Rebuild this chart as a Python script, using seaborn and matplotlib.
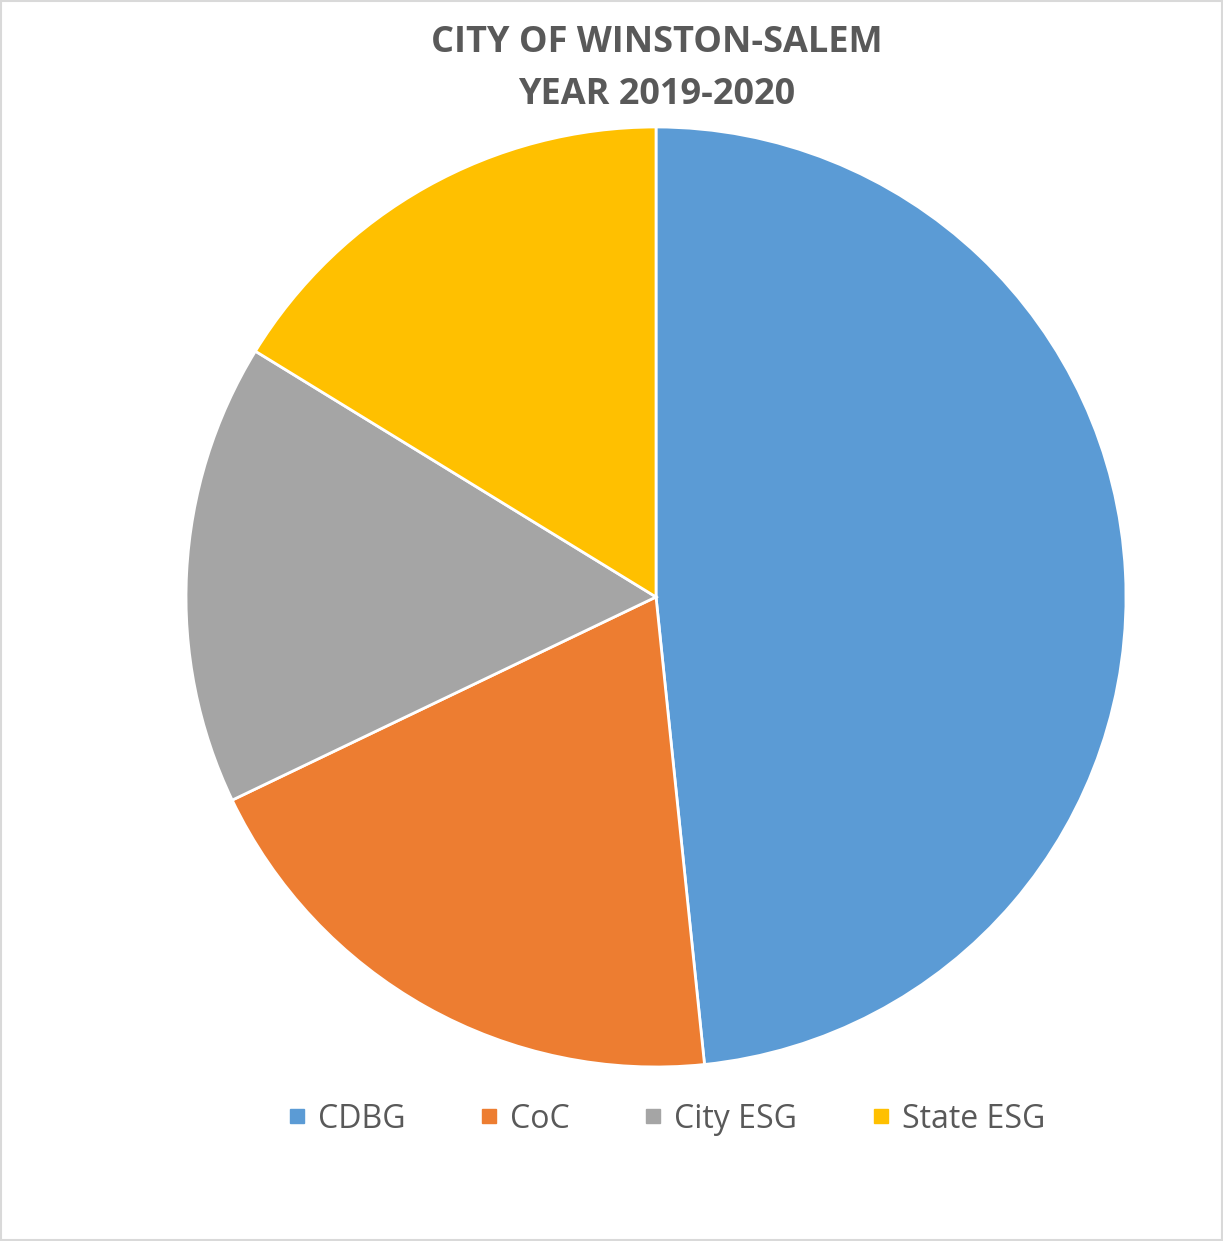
import matplotlib
matplotlib.use('Agg')
import matplotlib.pyplot as plt
from matplotlib.lines import Line2D
from matplotlib.patches import Rectangle
import seaborn as sns

# Dữ liệu (%)
categories = ['CDBG', 'CoC', 'City ESG', 'State ESG']
shares = [48.35, 19.53, 15.87, 16.24]
colors = ['#5B9BD5', '#ED7D31', '#A5A5A5', '#FFC000']

sns.set_style('white')
plt.rcParams['font.family'] = ['Open Sans', 'DejaVu Sans']

fig = plt.figure(figsize=(12.23, 12.41), dpi=100)
ax = fig.add_axes([0.1521, 0.1402, 0.7686, 0.7575])

ax.pie(shares, colors=colors, startangle=90, counterclock=False,
       wedgeprops=dict(edgecolor='white', linewidth=2))
ax.set_xlim(-1, 1)
ax.set_ylim(-1, 1)
ax.set_aspect('equal')
ax.axis('off')

# Tiêu đề hai dòng
title_lines = ['CITY OF WINSTON-SALEM', 'YEAR 2019-2020']
for line, ypix in zip(title_lines, [43, 95]):
    fig.text(0.537, 1 - ypix / 1241, line, ha='center', va='center',
             fontsize=26, fontweight='bold', color='#595959')

handles = [Line2D([], [], marker='s', linestyle='', markersize=9.4,
                  markerfacecolor=c, markeredgecolor=c) for c in colors]
fig.legend(handles, categories, loc='center', ncol=4,
           bbox_to_anchor=(0.5454, 1 - 1119 / 1241), frameon=False,
           fontsize=23, labelcolor='#595959', handletextpad=0.42,
           columnspacing=2.35, handlelength=0.5)

# Viền nhạt quanh biểu đồ
fig.patches.append(Rectangle((0.001, 0.001), 0.998, 0.998, transform=fig.transFigure,
                             fill=False, edgecolor='#D9D9D9', linewidth=1.5))

fig.savefig('out.png', dpi=100)
